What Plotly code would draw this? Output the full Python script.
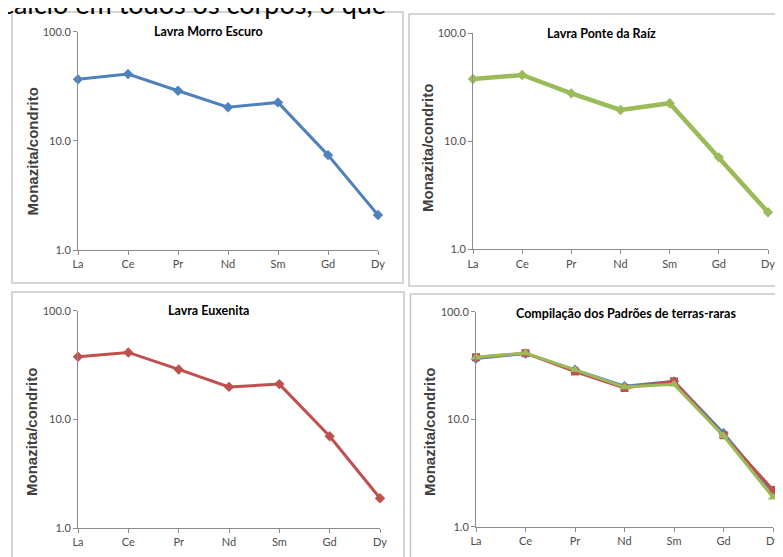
import plotly.graph_objects as go

W, H = 783, 557
OFF = 8  # page body margin offset of the plot div

categories = ["La", "Ce", "Pr", "Nd", "Sm", "Gd", "Dy"]
morro_escuro = [36.6, 40.9, 28.8, 20.3, 22.5, 7.4, 2.09]
ponte_da_raiz = [37.7, 41.1, 27.8, 19.5, 22.5, 7.1, 2.2]
euxenita = [37.7, 41.3, 28.8, 19.9, 21.1, 7.0, 1.88]

ytick_vals = [1, 10, 100]
ytick_text = ["1.0", "10.0", "100.0"]

panel_titles = [
    "Lavra Morro Escuro",
    "Lavra Ponte da Raíz",
    "Lavra Euxenita",
    "Compilação dos Padrões de terras-raras",
]
y_title = "Monazita/condrito"
top_text = "cálcio em todos os corpos, o que"

BLUE = "#4F81BD"
RED = "#C0504D"
GREEN = "#9BBB59"


def px(x):
    return (x - OFF) / W


def py(y):
    return 1 - (y - OFF) / H


# pixel geometry (page coords) of each panel: plot area (x0, x1, ytop, ybot), border box, title pos, ytitle pos
panels = [
    dict(area=(78, 378, 31.7, 250), box=(12, 12, 403, 283), title=(208, 32), ytitle=(31.5, 152)),
    dict(area=(473, 768, 33.3, 249.3), box=(409, 14, 795, 286), title=(601, 33), ytitle=(427, 148)),
    dict(area=(78, 380, 310.7, 528), box=(12, 292, 404, 575), title=(208, 310), ytitle=(31, 432)),
    dict(area=(476, 773, 311.7, 526.7), box=(410.5, 294, 795, 575), title=(626, 313), ytitle=(429, 432)),
]

fig = go.Figure()

series_by_panel = [
    [(morro_escuro, BLUE, "diamond", 3, 8)],
    [(ponte_da_raiz, GREEN, "diamond", 4.5, 8)],
    [(euxenita, RED, "diamond", 3, 8)],
    [
        (morro_escuro, BLUE, "diamond", 3, 8),
        (ponte_da_raiz, RED, "square", 3, 8),
        (euxenita, GREEN, "triangle-up", 3, 9),
    ],
]

shapes = []
annotations = []

for i, (p, series) in enumerate(zip(panels, series_by_panel)):
    n = "" if i == 0 else str(i + 1)
    xa, ya = "x" + n, "y" + n
    for vals, color, sym, lw, ms in series:
        fig.add_trace(go.Scatter(
            x=categories, y=vals, mode="lines+markers",
            line=dict(color=color, width=lw),
            marker=dict(symbol=sym, size=ms, color=color),
            xaxis=xa, yaxis=ya, cliponaxis=False, showlegend=False,
        ))
    x0, x1, yt, yb = p["area"]
    axis_common = dict(
        showline=True, linecolor="#8C8C8C", linewidth=1,
        ticks="outside", tickcolor="#8C8C8C", ticklen=4, tickwidth=1,
        showgrid=False, zeroline=False, automargin=False,
        tickfont=dict(family="Lato", size=11, color="#4D4D4D"),
    )
    fig.layout["xaxis" + n] = dict(
        axis_common, domain=[px(x0), px(x1)], anchor=ya,
        type="category", categoryorder="array", categoryarray=categories,
        range=[0, 6],
    )
    fig.layout["yaxis" + n] = dict(
        axis_common, domain=[py(yb), py(yt)], anchor=xa,
        type="log", range=[0, 2], tickvals=ytick_vals, ticktext=ytick_text,
    )
    bx0, by0, bx1, by1 = p["box"]
    shapes.append(dict(
        type="rect", xref="paper", yref="paper",
        x0=px(bx0), x1=px(bx1), y0=py(by1), y1=py(by0),
        line=dict(color="#C8C8C8", width=1.5), fillcolor="rgba(0,0,0,0)",
    ))
    tx, ty = p["title"]
    annotations.append(dict(
        text="<b>%s</b>" % panel_titles[i], xref="paper", yref="paper",
        x=px(tx), y=py(ty), xanchor="center", yanchor="middle", showarrow=False,
        font=dict(family="Lato", size=12.5, color="#000000"),
    ))
    ax_, ay_ = p["ytitle"]
    annotations.append(dict(
        text="<b>%s</b>" % y_title, xref="paper", yref="paper",
        x=px(ax_), y=py(ay_), xanchor="center", yanchor="middle", showarrow=False,
        textangle=-90,
        font=dict(family="Liberation Sans", size=15, color="#404040"),
    ))

annotations.append(dict(
    text=top_text, xref="paper", yref="paper",
    x=px(-1), y=py(3), xanchor="left", yanchor="middle", showarrow=False,
    font=dict(family="Lato", size=27, color="#000000"),
))

fig.update_layout(
    width=W, height=H,
    margin=dict(l=0, r=0, t=0, b=0, pad=0, autoexpand=False),
    paper_bgcolor="white", plot_bgcolor="white",
    shapes=shapes, annotations=annotations,
)

fig.write_html("out.html")
